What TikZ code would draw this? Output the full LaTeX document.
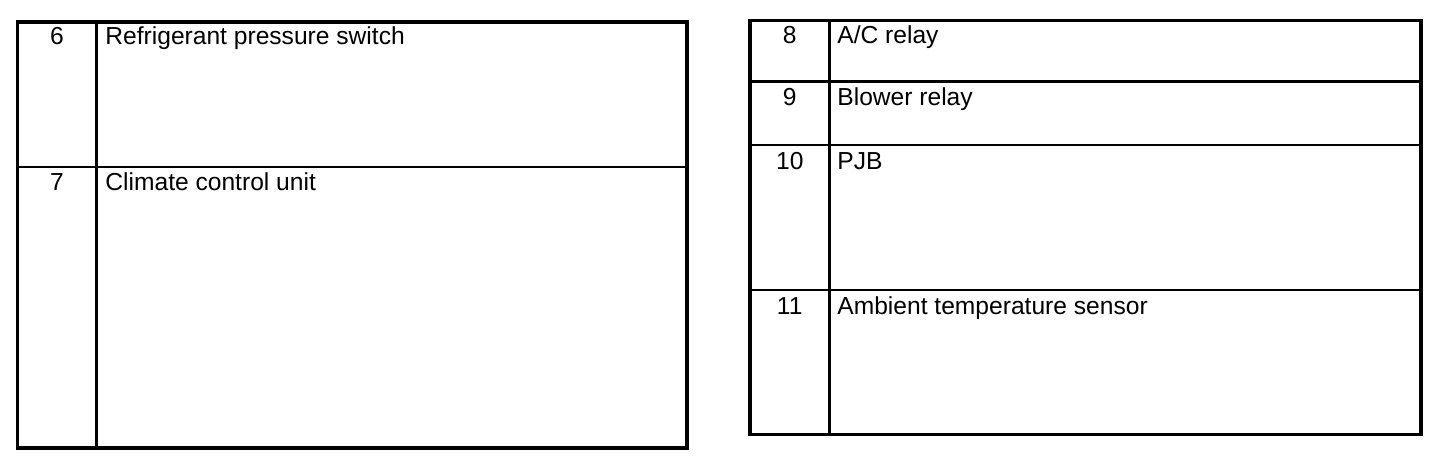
\documentclass[tikz,border=0pt]{standalone}
\usepackage{fontspec}
\setmainfont{Liberation Sans}
\begin{document}
\begin{tikzpicture}[x=0.5pt,y=-0.5pt,
  outer/.style={line width=1.75pt},
  inner/.style={line width=1.25pt},
  num/.style={anchor=base,inner sep=0pt,font=\fontsize{12.3}{14}\selectfont},
  lbl/.style={anchor=base west,inner sep=0pt,font=\fontsize{12.3}{14}\selectfont}]
\useasboundingbox (0,0) rectangle (1456,462);
\fill[white] (0,0) rectangle (1456,462);
% left table
\draw[inner] (96.5,22) -- (96.5,448);
\draw[inner] (17.5,167) -- (687,167);
\draw[outer] (17.5,22) rectangle (687,448);
\node[num] (n6) at (57,44) {6};
\node[lbl] (l6) at (105,44) {Refrigerant pressure switch};
\node[num] (n7) at (57,190) {7};
\node[lbl] (l7) at (105,190) {Climate control unit};
% right table
\draw[inner] (829.5,20.5) -- (829.5,434.5);
\draw[inner] (750,81.5) -- (1421,81.5);
\draw[inner] (750,145) -- (1421,145);
\draw[inner] (750,290) -- (1421,290);
\draw[outer] (750,20.5) rectangle (1421,434.5);
\node[num] (n8) at (789.75,43) {8};
\node[lbl] (l8) at (837,43) {A/C relay};
\node[num] (n9) at (789.75,105) {9};
\node[lbl] (l9) at (837,105) {Blower relay};
\node[num] (n10) at (789.75,169) {10};
\node[lbl] (l10) at (837,169) {PJB};
\node[num] (n11) at (789.75,314) {11};
\node[lbl] (l11) at (837,314) {Ambient temperature sensor};
\end{tikzpicture}
\end{document}
